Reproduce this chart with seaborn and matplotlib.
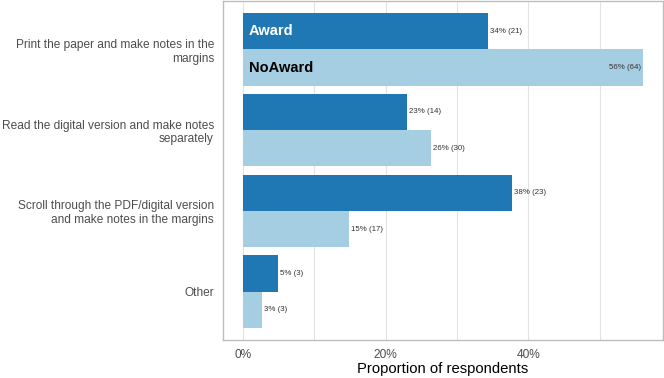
import pandas as pd
import numpy as np
import matplotlib
matplotlib.use("Agg")
import matplotlib.pyplot as plt
import seaborn as sns
from matplotlib.ticker import MultipleLocator, PercentFormatter

# data
categories = ["Print the paper and make notes in the\nmargins",
              "Read the digital version and make notes\nseparately",
              "Scroll through the PDF/digital version\nand make notes in the margins",
              "Other"]
groups = ["Award", "NoAward"]
award_prop = [0.344, 0.230, 0.377, 0.049]
award_n = [21, 14, 23, 3]
noaward_prop = [0.561, 0.263, 0.149, 0.026]
noaward_n = [64, 30, 17, 3]
colors = ["#1f78b4", "#a6cee3"]

df = pd.DataFrame({
    "method": categories * 2,
    "group": ["Award"] * 4 + ["NoAward"] * 4,
    "prop": award_prop + noaward_prop,
    "n": award_n + noaward_n,
})

sns.set_style("white")
plt.rcParams["font.family"] = ["Liberation Sans", "DejaVu Sans"]

fig = plt.figure(figsize=(6.64, 3.78), dpi=100)
ax = fig.add_axes([223 / 664, 1 - 340 / 378, 440 / 664, 339 / 378])

sns.barplot(data=df, y="method", x="prop", hue="group", order=categories,
            hue_order=groups, palette=colors, orient="h", width=0.9, gap=0,
            saturation=1, edgecolor="none", legend=False, ax=ax)

xmax = max(award_prop + noaward_prop)
ax.set_xlim(-0.05 * xmax, 1.05 * xmax)
ax.set_ylim(len(categories) - 0.4, -0.6)

ax.xaxis.set_major_locator(MultipleLocator(0.2))
ax.xaxis.set_minor_locator(MultipleLocator(0.1))
ax.xaxis.set_major_formatter(PercentFormatter(1.0, decimals=0))
ax.grid(axis="x", which="both", color="#e3e3e3", linewidth=0.8)
ax.set_axisbelow(True)

for s in ax.spines.values():
    s.set_color("#bdbdbd")
    s.set_linewidth(1.0)

ax.tick_params(axis="both", which="major", colors="#b3b3b3", length=3, width=0.8,
               labelcolor="#4d4d4d", labelsize=8.6)
ax.tick_params(axis="x", which="minor", length=0)
ax.set_xlabel("Proportion of respondents", fontsize=10.7, color="black", labelpad=1)
ax.set_ylabel("")

# value labels
for cont, props, ns in zip(ax.containers, [award_prop, noaward_prop], [award_n, noaward_n]):
    for bar, p, n in zip(cont.patches, props, ns):
        w = bar.get_width()
        yc = bar.get_y() + bar.get_height() / 2
        lab = f"{round(p * 100):.0f}% ({n})"
        if p == xmax:
            ax.text(w - 0.003, yc, lab, ha="right", va="center", fontsize=5.7, color="#333333")
        else:
            ax.text(w + 0.003, yc, lab, ha="left", va="center", fontsize=5.7, color="#333333")

# group names inside first category bars
for cont, g, c in zip(ax.containers, groups, ["white", "black"]):
    bar = cont.patches[0]
    ax.text(0.008, bar.get_y() + bar.get_height() / 2, g, ha="left", va="center",
            fontsize=10.5, fontweight="bold", color=c)

fig.savefig("out.png", dpi=100)
